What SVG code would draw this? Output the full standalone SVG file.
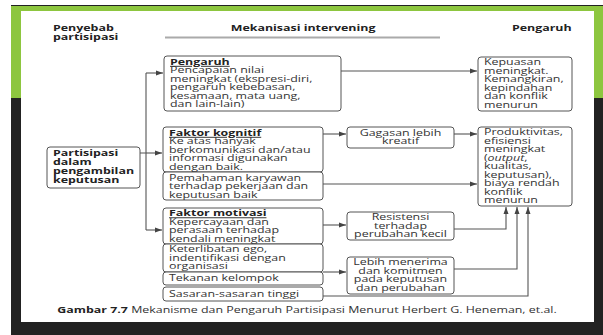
<svg xmlns="http://www.w3.org/2000/svg" width="603" height="335" viewBox="0 0 603 335">
<style>
.t{font-family:"Open Sans","DejaVu Sans",sans-serif;font-size:9px;fill:#333}
.b{font-weight:bold;fill:#222}
.u{text-decoration:underline}
.c{text-anchor:middle}
.box{fill:#fff;stroke:#555;stroke-width:1}
.ln{fill:none;stroke:#555;stroke-width:1.1}
</style>
<defs>
<marker id="ah" markerUnits="userSpaceOnUse" markerWidth="7" markerHeight="6" refX="7" refY="3" orient="auto">
<path d="M0,0.5 L7,3 L0,5.5 z" fill="#444"/>
</marker>
</defs>
<rect x="0" y="0" width="603" height="335" fill="#fff"/>
<rect x="11" y="5" width="592" height="330" fill="#222"/>
<rect x="11" y="6" width="592" height="92" fill="#8dc63f"/>
<rect x="21" y="11" width="573" height="311" fill="#fff"/>
<line x1="165" y1="37.5" x2="440" y2="37.5" stroke="#aaa" stroke-width="2"/>

<g id="connectors" class="ln">
<path d="M140,153 H146 M146,73 V230" />
<path d="M146,73 H163" marker-end="url(#ah)"/>
<path d="M146,153 H162" marker-end="url(#ah)"/>
<path d="M146,230 H162" marker-end="url(#ah)"/>
<path d="M341,71 H477" marker-end="url(#ah)"/>
<path d="M323,134 H346" marker-end="url(#ah)"/>
<path d="M454,134 H477" marker-end="url(#ah)"/>
<path d="M323,184 H477" marker-end="url(#ah)"/>
<path d="M323,225 H346" marker-end="url(#ah)"/>
<path d="M323,272 H346" marker-end="url(#ah)"/>
<path d="M454,229 H506 V207" marker-end="url(#ah)"/>
<path d="M454,269 H517 V207" marker-end="url(#ah)"/>
<path d="M323,296 H528 V207" marker-end="url(#ah)"/>
</g>

<g id="n-partisipasi"><rect class="box" x="47" y="147" width="93" height="41" rx="3"/></g>
<g id="n-pengaruh"><rect class="box" x="164" y="56" width="177" height="55" rx="3"/></g>
<g id="n-kognitif"><rect class="box" x="163" y="127" width="160" height="45" rx="3"/></g>
<g id="n-pemahaman"><rect class="box" x="163" y="172" width="160" height="28" rx="3"/></g>
<g id="n-motivasi"><rect class="box" x="163" y="208" width="160" height="36" rx="3"/></g>
<g id="n-keterlibatan"><rect class="box" x="163" y="244" width="160" height="28" rx="3"/></g>
<g id="n-tekanan"><rect class="box" x="163" y="272" width="160" height="13" rx="3"/></g>
<g id="n-sasaran"><rect class="box" x="163" y="287" width="160" height="14" rx="3"/></g>
<g id="n-gagasan"><rect class="box" x="347" y="127" width="107" height="21" rx="3"/></g>
<g id="n-resistensi"><rect class="box" x="347" y="212" width="107" height="28" rx="3"/></g>
<g id="n-lebih"><rect class="box" x="347" y="257" width="107" height="37" rx="3"/></g>
<g id="n-kepuasan"><rect class="box" x="478" y="57" width="94" height="54" rx="3"/></g>
<g id="n-produktivitas"><rect class="box" x="478" y="127" width="94" height="79" rx="3"/></g>

<g id="labels" transform="scale(1.38 1)">
<text class="t b" x="38.4" y="31">Penyebab</text>
<text class="t b" x="38.4" y="40">partisipasi</text>
<text class="t b c" x="219.6" y="31">Mekanisasi intervening</text>
<text class="t b" x="371" y="31">Pengaruh</text>

<text class="t b" x="38.4"><tspan x="38.4" y="156">Partisipasi</tspan><tspan x="38.4" y="165">dalam</tspan><tspan x="38.4" y="174">pengambilan</tspan><tspan x="38.4" y="183">keputusan</tspan></text>

<text class="t" x="123.2"><tspan class="b u" x="123.2" y="65">Pengaruh</tspan><tspan x="123.2" y="73.5">Pencapaian nilai</tspan><tspan x="123.2" y="82">meningkat (ekspresi-diri,</tspan><tspan x="123.2" y="90.5">pengaruh kebebasan,</tspan><tspan x="123.2" y="99">kesamaan, mata uang,</tspan><tspan x="123.2" y="107.5">dan lain-lain)</tspan></text>

<text class="t" x="122.5"><tspan class="b u" x="122.5" y="136">Faktor kognitif</tspan><tspan x="122.5" y="144.5">Ke atas hanyak</tspan><tspan x="122.5" y="153">berkomunikasi dan/atau</tspan><tspan x="122.5" y="161.5">informasi digunakan</tspan><tspan x="122.5" y="170">dengan baik.</tspan></text>

<text class="t" x="122.5"><tspan x="122.5" y="181">Pemahaman karyawan</tspan><tspan x="122.5" y="189.5">terhadap pekerjaan dan</tspan><tspan x="122.5" y="198">keputusan baik</tspan></text>

<text class="t" x="122.5"><tspan class="b u" x="122.5" y="216.5">Faktor motivasi</tspan><tspan x="122.5" y="225">Kepercayaan dan</tspan><tspan x="122.5" y="233.5">perasaan terhadap</tspan><tspan x="122.5" y="242">kendali meningkat</tspan></text>

<text class="t" x="122.5"><tspan x="122.5" y="252.5">Keterlibatan ego,</tspan><tspan x="122.5" y="261">indentifikasi dengan</tspan><tspan x="122.5" y="269.5">organisasi</tspan></text>

<text class="t" x="122.5" y="281.5">Tekanan kelompok</text>
<text class="t" x="122.5" y="297">Sasaran-sasaran tinggi</text>

<text class="t c"><tspan x="290.2" y="136">Gagasan lebih</tspan><tspan x="290.2" y="144.5">kreatif</tspan></text>
<text class="t c"><tspan x="290.2" y="220.5">Resistensi</tspan><tspan x="290.2" y="229">terhadap</tspan><tspan x="290.2" y="237.5">perubahan kecil</tspan></text>
<text class="t c"><tspan x="290.2" y="265.5">Lebih menerima</tspan><tspan x="290.2" y="274">dan komitmen</tspan><tspan x="290.2" y="282.5">pada keputusan</tspan><tspan x="290.2" y="291">dan perubahan</tspan></text>

<text class="t"><tspan x="350.7" y="65.5">Kepuasan</tspan><tspan x="350.7" y="74">meningkat.</tspan><tspan x="350.7" y="82.5">Kemangkiran,</tspan><tspan x="350.7" y="91">kepindahan</tspan><tspan x="350.7" y="99.5">dan konflik</tspan><tspan x="350.7" y="108">menurun</tspan></text>

<text class="t"><tspan x="350.7" y="135.5">Produktivitas,</tspan><tspan x="350.7" y="144">efisiensi</tspan><tspan x="350.7" y="152.5">meningkat</tspan><tspan x="350.7" y="161">(<tspan font-style="italic">output</tspan>,</tspan><tspan x="350.7" y="169.5">kualitas,</tspan><tspan x="350.7" y="178">keputusan),</tspan><tspan x="350.7" y="186.5">biaya rendah</tspan><tspan x="350.7" y="195">konflik</tspan><tspan x="350.7" y="203.5">menurun</tspan></text>

<text class="t c" x="222.5" y="313"><tspan class="b">Gambar 7.7</tspan> Mekanisme dan Pengaruh Partisipasi Menurut Herbert G. Heneman, et.al.</text>
</g>
</svg>
